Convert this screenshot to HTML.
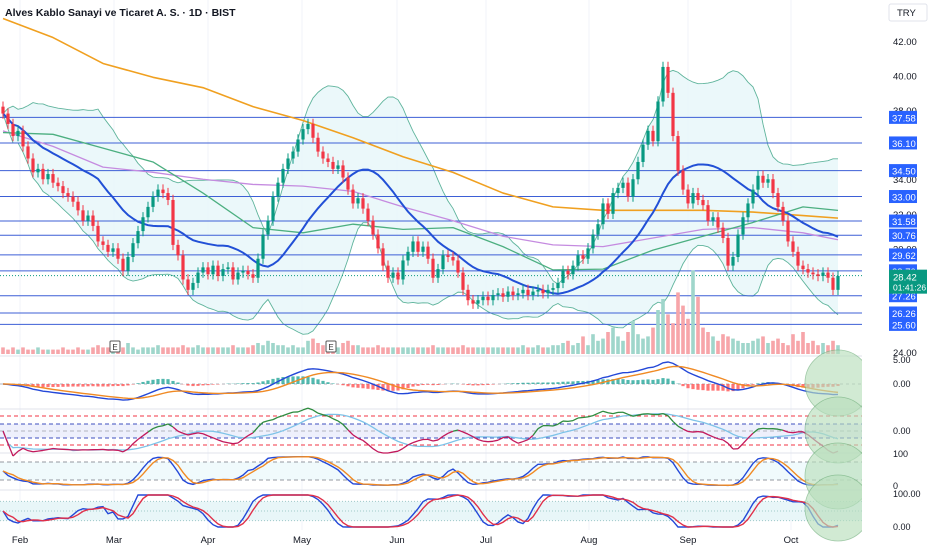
<!DOCTYPE html>
<html><head><meta charset="utf-8"><style>
html,body{margin:0;padding:0;background:#fff;width:932px;height:550px;overflow:hidden}
svg{display:block;font-family:"Liberation Sans",sans-serif}
</style></head><body>
<svg id="chart" width="932" height="550" viewBox="0 0 932 550" xmlns="http://www.w3.org/2000/svg">
<rect x="0" y="0" width="932" height="550" fill="#fff"/>
<g id="g"></g>
<text x="5" y="16" font-size="10.5" font-weight="bold" fill="#131722">Alves Kablo Sanayi ve Ticaret A. S. · 1D · BIST</text>
<rect x="889" y="4" width="38" height="17" rx="2" fill="#fff" stroke="#e0e3eb"/>
<text x="897" y="16" font-size="9.5" fill="#131722">TRY</text>
</svg>
<script>
const closes=[37.8,37.2,36.5,36.8,35.9,35.2,34.4,34.6,34.0,34.3,
33.8,33.6,33.2,33.0,32.7,32.2,31.6,31.9,31.3,30.4,
30.2,29.8,30.0,29.4,28.7,29.5,30.3,31.0,31.8,32.4,
33.0,33.4,33.2,32.8,30.2,29.6,28.2,27.6,28.0,28.6,
28.9,28.5,29.0,28.4,28.8,28.9,28.2,28.6,28.7,28.5,
28.3,29.4,30.8,31.6,33.0,33.8,34.6,35.2,35.6,36.3,
36.9,37.2,36.4,35.6,35.2,35.0,34.6,34.8,34.1,33.4,
32.6,32.9,32.3,31.6,30.8,30.0,29.0,28.3,28.6,28.2,
29.3,29.8,30.4,29.8,30.1,29.4,28.3,28.8,29.6,29.5,
29.3,28.6,27.6,27.0,26.8,27.0,27.2,27.0,27.3,27.4,
27.2,27.5,27.3,27.4,27.6,27.3,27.5,27.6,27.4,27.6,
27.7,28.0,28.7,28.5,29.0,29.6,29.4,30.0,30.8,31.4,
32.6,32.0,33.2,33.5,33.8,33.0,34.0,35.0,36.0,36.8,
36.2,38.5,40.5,39.0,36.5,34.5,33.4,32.6,33.2,32.8,
32.5,31.6,31.8,31.2,30.6,29.0,29.5,30.8,31.8,32.6,
33.4,34.2,33.8,34.0,33.2,32.4,31.6,30.4,29.8,29.0,
28.8,28.6,28.5,28.4,28.6,28.3,27.6,28.4];
const volumes=[3,2,3,2,3,2,2,3,2,2,2,2,3,2,2,3,2,2,3,4,3,3,2,3,3,5,3,2,3,3,3,4,3,3,3,3,4,3,3,4,
3,3,3,3,3,3,4,3,3,3,4,5,4,6,5,4,4,3,4,3,3,6,7,5,4,5,4,3,5,6,4,4,3,3,3,4,3,3,3,3,
3,3,3,3,3,3,4,3,3,3,3,3,4,3,3,3,3,3,3,3,3,3,3,3,4,3,3,4,3,3,4,4,5,6,4,5,8,4,9,6,
7,10,12,8,6,10,15,9,7,8,12,20,25,18,14,28,22,16,38,26,12,10,8,6,9,8,7,6,5,5,6,7,8,5,6,7,5,4,9,6,10,5,6,4,5,4,6,4];
const maIdx=[0,10,20,30,40,50,60,70,80,90,100,110,120,130,140,150,160,167];
const ma200=[43.3,42.2,40.7,39.9,39.3,38.2,37.4,36.4,35.3,34.4,33.2,32.4,32.2,32.2,32.2,32.1,31.9,31.75];
const ma100=[36.8,35.9,34.7,34.4,34.0,33.7,33.6,33.3,32.4,31.6,30.7,30.2,30.1,30.6,31.1,31.2,30.9,30.5];
const ma50=[36.7,36.6,35.8,35.0,33.2,31.2,30.9,31.4,31.1,31.2,30.1,28.75,28.8,29.9,30.7,31.5,32.4,32.2];
const levels=[37.58,36.10,34.50,33.00,31.58,30.76,29.62,28.70,27.26,26.26,25.60];
const priceTicks=[42,40,38,34,32,30,24];
const months=["Feb","Mar","Apr","May","Jun","Jul","Aug","Sep","Oct"];
const monthIdx=[3.4,22.2,41,59.8,78.8,96.6,117.2,137,157.6];
const lastPrice=28.42;

const NS="http://www.w3.org/2000/svg";
const g=document.getElementById('g');
function el(t,a,p){const e=document.createElementNS(NS,t);for(const k in a)e.setAttribute(k,a[k]);(p||g).appendChild(e);return e;}
const X=i=>3+i*5;
const Y=p=>41+(42-p)*17.28;
const n=closes.length;
const opens=closes.map((c,i)=>i===0?38.2:closes[i-1]);
const UP="#089981",DN="#f23645";

monthIdx.forEach(i=>{const l=el('line',{x1:X(i),x2:X(i),y1:0,y2:530,stroke:'#f0f3fa'});
});

function sma(a,p){return a.map((v,i)=>{const s=a.slice(Math.max(0,i-p+1),i+1);return s.reduce((x,y)=>x+y,0)/s.length;});}
function sd(a,p){const m=sma(a,p);return a.map((v,i)=>{const s=a.slice(Math.max(0,i-p+1),i+1);return Math.sqrt(s.reduce((x,y)=>x+(y-m[i])**2,0)/s.length);});}
function ema(a,p){const k=2/(p+1);let r=[];a.forEach((v,i)=>r.push(i?v*k+r[i-1]*(1-k):v));return r;}
const mid=sma(closes,20),dev=sd(closes,20);
const up=mid.map((m,i)=>m+2*dev[i]),lo=mid.map((m,i)=>m-2*dev[i]);
let poly=up.map((v,i)=>X(i)+','+Y(v)).concat(lo.map((v,i)=>X(i)+','+Y(v)).reverse()).join(' ');
let b=el('polygon',{points:poly,fill:'#e6f6f9',opacity:0.8});

[up,lo].forEach(a=>{const l=el('polyline',{points:a.map((v,i)=>X(i)+','+Y(v)).join(' '),fill:'none',stroke:'#5fb49c','stroke-width':0.9});
});

levels.forEach(v=>{const l=el('line',{x1:0,x2:862,y1:Y(v),y2:Y(v),stroke:'#3d5fd6','stroke-width':1});
});
const dl=el('line',{x1:0,x2:862,y1:Y(lastPrice),y2:Y(lastPrice),stroke:'#089981','stroke-dasharray':'1,2'});


function maLine(arr,col,w,name){const l=el('polyline',{points:arr.map((v,j)=>X(maIdx[j])+','+Y(v)).join(' '),fill:'none',stroke:col,'stroke-width':w,'stroke-linejoin':'round'});
}
maLine(ma200,'#f0a020',1.6,'ma200-line');
maLine(ma100,'#c58be0',1.3,'ma100-line');
maLine(ma50,'#4caf80',1.3,'ma50-line');
const bl=el('polyline',{points:mid.map((v,i)=>X(i)+','+Y(v)).join(' '),fill:'none',stroke:'#2250d6','stroke-width':2});


volumes.forEach((v,i)=>{const h=v*2.2;const r=el('rect',{x:X(i)-1.8,y:354-h,width:3.6,height:h,fill:closes[i]>=opens[i]?'#9fd6cb':'#f7a5a9'});
});

closes.forEach((c,i)=>{const o=opens[i];const col=c>=o?UP:DN;
const hi=Math.max(o,c)+0.3,lw=Math.min(o,c)-0.3;
const w=el('line',{x1:X(i),x2:X(i),y1:Y(hi),y2:Y(lw),stroke:col,'stroke-width':1});

const r=el('rect',{x:X(i)-1.6,y:Y(Math.max(o,c)),width:3.2,height:Math.max(1,Math.abs(Y(o)-Y(c))),fill:col});
});

[[115,'E'],[331,'E']].forEach(m=>{const r=el('rect',{x:m[0]-5,y:341,width:10,height:11,fill:'#fff',stroke:'#555',rx:1});

const t=el('text',{x:m[0],y:350,'font-size':8,'text-anchor':'middle',fill:'#333'});t.textContent=m[1];
});

[356,409,453,490].forEach(y=>{const l=el('line',{x1:0,x2:932,y1:y,y2:y,stroke:'#e0e3eb'});
});

const e12=ema(closes,12),e26=ema(closes,26);
const macd=e12.map((v,i)=>v-e26[i]);
const sig=ema(macd,9);
const mmax=Math.max(...macd.map(Math.abs));
const YM=v=>384-v/mmax*22;
let zl=el('line',{x1:0,x2:862,y1:384,y2:384,stroke:'#b2b5be','stroke-dasharray':'3,3'});

macd.forEach((v,i)=>{const h=v-sig[i];const r=el('rect',{x:X(i)-1.6,y:Math.min(384,YM(h)),width:3.2,height:Math.abs(YM(h)-384),fill:h>=0?'#26a69a':'#ff5252',opacity:0.8});
});
function pl(arr,fy,col,w,name){const l=el('polyline',{points:arr.map((v,i)=>X(i)+','+fy(v)).join(' '),fill:'none',stroke:col,'stroke-width':w});
}
pl(macd,YM,'#2448d8',1.4,'macd-line');
pl(sig,YM,'#f08a24',1.4,'macd-signal-line');

const rsi=closes.map((c,i)=>{let gsum=0,lsum=0;for(let j=Math.max(1,i-13);j<=i;j++){const d=closes[j]-closes[j-1];if(d>0)gsum+=d;else lsum-=d;}return (gsum+lsum)?100*gsum/(gsum+lsum):50;});
const rsiS=sma(rsi,2);
const rsiMa=sma(rsi,14);
const YR=v=>431-(v-50)*0.5;
let rb=el('rect',{x:0,y:YR(64),width:862,height:YR(36)-YR(64),fill:'#eef0fc'});

[[80,'#f23645'],[64,'#3f4fbf'],[50,'#b2b5be'],[36,'#3f4fbf'],[22,'#f23645']].forEach(a=>{const l=el('line',{x1:0,x2:862,y1:YR(a[0]),y2:YR(a[0]),stroke:a[1],'stroke-dasharray':'4,3','stroke-width':1});
});
pl(rsiMa,YR,'#7ec3e8',1.3,'rsi-ma-line');
for(let i=1;i<n;i++){const l=el('line',{x1:X(i-1),x2:X(i),y1:YR(rsiS[i-1]),y2:YR(rsiS[i]),stroke:rsiS[i]>=50?'#2e8b3e':'#c2185b','stroke-width':1.3});
}

const kRaw=closes.map((c,i)=>{const s=closes.slice(Math.max(0,i-13),i+1);const h=Math.max(...s)+0.2,l=Math.min(...s)-0.2;return 100*(c-l)/(h-l);});
const kS=sma(kRaw,3),dS=sma(kS,3);
const YS=v=>486-v*0.3;
let sb=el('rect',{x:0,y:YS(80),width:862,height:YS(20)-YS(80),fill:'#f0fafc'});

[80,20].forEach(v=>{const l=el('line',{x1:0,x2:862,y1:YS(v),y2:YS(v),stroke:'#9598a1','stroke-dasharray':'4,3'});
});
pl(kS,YS,'#2448d8',1.4,'stoch-k-line');
pl(dS,YS,'#f08a24',1.4,'stoch-d-line');

const srRaw=rsi.map((v,i)=>{const s=rsi.slice(Math.max(0,i-13),i+1);const h=Math.max(...s),l=Math.min(...s);return h>l?100*(v-l)/(h-l):50;});
const srK=sma(srRaw,3),srD=sma(srK,3);
const YT=v=>527-v*0.32;
let tb=el('rect',{x:0,y:YT(80),width:862,height:YT(20)-YT(80),fill:'#e8f6f8'});

[80,50,20].forEach(v=>{const l=el('line',{x1:0,x2:862,y1:YT(v),y2:YT(v),stroke:'#9fc9c9','stroke-dasharray':'1,2'});
});
pl(srK,YT,'#2448d8',1.4,'stochrsi-k-line');
pl(srD,YT,'#e0304a',1.4,'stochrsi-d-line');

[383,430,476,508].forEach(cy=>{const c=el('circle',{cx:838,cy:cy,r:33,fill:'#b9dfbd',opacity:0.65,stroke:'#6fae7a','stroke-width':0.8});
});

let ra=el('rect',{x:862,y:25,width:70,height:525,fill:'#fff'});

priceTicks.forEach(v=>{const t=el('text',{x:893,y:Y(v)+4,'font-size':9.5,fill:'#131722'});t.textContent=v.toFixed(2);
});
levels.forEach(v=>{const r=el('rect',{x:889,y:Y(v)-6.5,width:28,height:13,fill:'#2962ff'});

const t=el('text',{x:892,y:Y(v)+4,'font-size':9.5,fill:'#fff'});t.textContent=v.toFixed(2);
});
let lp=el('rect',{x:889,y:Y(lastPrice)-6,width:38,height:24,fill:'#089981'});

let lt=el('text',{x:893,y:Y(lastPrice)+5,'font-size':9.5,fill:'#fff'});lt.textContent=lastPrice.toFixed(2);

let ct=el('text',{x:893,y:Y(lastPrice)+15,'font-size':8.5,fill:'#fff'});ct.textContent='01:41:26';

[[363,'5.00'],[387,'0.00'],[434,'0.00'],[457,'100'],[489,'0'],[497,'100.00'],[530,'0.00']].forEach(a=>{const t=el('text',{x:893,y:a[0],'font-size':9,fill:'#131722'});t.textContent=a[1];
});

months.forEach((m,j)=>{const t=el('text',{x:X(monthIdx[j]),y:543,'font-size':9.5,fill:'#131722','text-anchor':'middle'});t.textContent=m;
});
</script>
</body></html>
